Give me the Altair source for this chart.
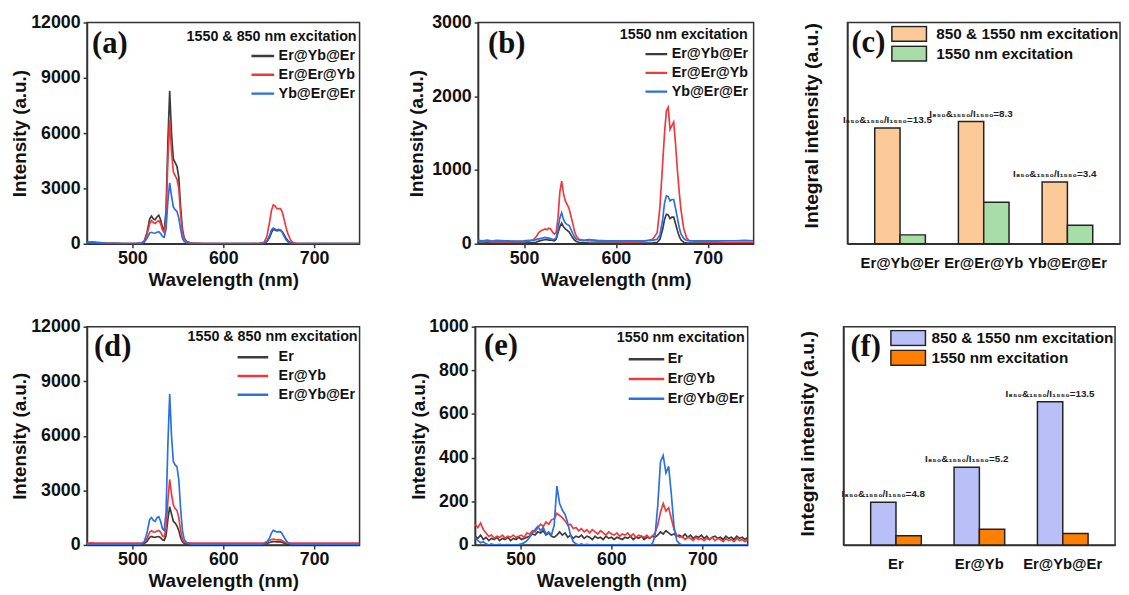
import altair as alt
import pandas as pd

SANS = "Liberation Sans"
SERIF = "Liberation Serif"

# ---------------- wavelength grids ----------------
WL = [450, 455, 460, 465, 470, 480, 490, 500, 505, 510, 513, 516, 519, 521, 523,
      525, 527, 529, 531, 533, 535, 537, 539, 541, 543, 545, 547, 549, 551, 553,
      555, 557, 560, 565, 570, 580, 590, 600, 610, 620, 630, 640, 645, 648, 651,
      653, 655, 657, 659, 661, 663, 665, 667, 669, 671, 674, 677, 680, 690, 700,
      710, 720, 730, 740, 750]

WL_E = [450, 453, 456, 459, 462, 465, 468, 471, 474, 477,
        480, 483, 486, 489, 492, 495, 498, 501, 504, 507,
        510, 513, 516, 519, 522, 525, 528, 531, 534, 537,
        540, 543, 546, 549, 552, 555, 558, 561, 564, 567,
        570, 573, 576, 579, 582, 585, 588, 591, 594, 597,
        600, 603, 606, 609, 612, 615, 618, 621, 624, 627,
        630, 633, 636, 639, 642, 645, 648, 651, 654, 657,
        660, 663, 666, 669, 672, 675, 678, 681, 684, 687,
        690, 693, 696, 699, 702, 705, 708, 711, 714, 717,
        720, 723, 726, 729, 732, 735, 738, 741, 744, 747,
        750]

# ---------------- panel (a): 1550 & 850 nm excitation ----------------
a_names = ["Er@Yb@Er", "Er@Er@Yb", "Yb@Er@Er"]
a_ErYbEr = [80, 90, 70, 60, 40, 20, 10, 10, 15, 30, 150, 600, 1350, 1500, 1350,
            1300, 1450, 1550, 1300, 900, 750, 1800, 5500, 8300, 6000, 4600, 4400, 4200, 3600, 2000,
            800, 300, 100, 30, 20, 10, 10, 10, 10, 10, 10, 15, 40, 120, 350,
            600, 780, 750, 700, 720, 730, 650, 480, 300, 170, 60, 20, 10, 10, 10,
            10, 10, 10, 10, 10]
a_ErErYb = [60, 70, 60, 50, 30, 15, 10, 10, 15, 30, 120, 500, 1100, 1250, 1150,
            1100, 1200, 1250, 1100, 750, 600, 1400, 4500, 6700, 5000, 3900, 3700, 3500, 3000, 1600,
            650, 250, 80, 30, 20, 10, 10, 10, 10, 10, 10, 20, 80, 400, 1200,
            1800, 2100, 2050, 1900, 1900, 1900, 1700, 1300, 900, 550, 200, 60, 20, 10, 10,
            10, 10, 10, 10, 10]
a_YbErEr = [70, 80, 60, 50, 30, 15, 10, 10, 15, 20, 80, 300, 580, 620, 580,
            570, 620, 650, 550, 400, 350, 800, 2300, 3300, 2600, 2000, 1850, 1750, 1400, 800,
            300, 120, 40, 20, 10, 10, 10, 10, 10, 10, 10, 15, 40, 150, 450,
            750, 850, 800, 750, 780, 750, 600, 400, 230, 110, 40, 15, 10, 10, 10,
            10, 10, 10, 10, 10]

# ---------------- panel (b): 1550 nm excitation ----------------
b_ErYbEr = [10, 10, 12, 10, 10, 10, 10, 10, 12, 15, 20, 35, 45, 50, 55,
            55, 50, 50, 45, 40, 60, 150, 230, 280, 230, 200, 180, 160, 120, 80,
            50, 30, 20, 15, 12, 10, 10, 10, 10, 10, 10, 12, 20, 60, 200,
            330, 400, 390, 340, 360, 360, 270, 180, 100, 50, 20, 10, 10, 10, 10,
            10, 10, 10, 10, 10]
b_ErErYb = [35, 30, 35, 25, 30, 25, 30, 30, 35, 50, 90, 150, 180, 190, 200,
            190, 210, 200, 160, 130, 150, 350, 700, 850, 680, 580, 530, 480, 380, 280,
            170, 100, 60, 45, 40, 35, 30, 30, 25, 25, 30, 60, 150, 500, 1100,
            1500, 1800, 1850, 1550, 1600, 1650, 1350, 1000, 700, 450, 200, 80, 40, 30, 25,
            25, 20, 20, 20, 20]
b_YbErEr = [45, 40, 50, 35, 45, 40, 35, 40, 45, 45, 55, 65, 75, 80, 85,
            80, 75, 70, 60, 60, 80, 200, 350, 420, 330, 280, 260, 250, 200, 140,
            90, 60, 50, 45, 55, 45, 40, 40, 40, 40, 40, 45, 60, 120, 330,
            550, 650, 640, 580, 600, 600, 480, 350, 220, 130, 70, 45, 40, 40, 40,
            40, 40, 40, 45, 40]

# ---------------- panel (d): 1550 & 850 nm excitation ----------------
d_names = ["Er", "Er@Yb", "Er@Yb@Er"]
d_Er = [50, 60, 50, 45, 40, 30, 30, 30, 35, 40, 80, 200, 420, 470, 430,
        420, 450, 460, 400, 280, 250, 500, 1400, 2100, 1700, 1300, 1200, 1050, 800, 400,
        180, 80, 40, 30, 30, 30, 30, 30, 30, 30, 30, 35, 45, 80, 130,
        170, 180, 175, 165, 170, 170, 140, 100, 60, 40, 30, 30, 30, 30, 30,
        30, 30, 30, 30, 30]
d_ErYb = [100, 110, 100, 100, 100, 100, 100, 100, 100, 105, 150, 350, 700, 780, 720,
          700, 760, 800, 700, 500, 450, 900, 2400, 3600, 2800, 2200, 2000, 1900, 1500, 800,
          300, 150, 110, 100, 100, 100, 100, 100, 100, 100, 100, 105, 120, 180, 260,
          300, 320, 300, 280, 290, 280, 230, 170, 120, 100, 100, 100, 100, 100, 100,
          100, 100, 100, 100, 100]
d_ErYbEr = [40, 40, 40, 40, 40, 30, 30, 30, 35, 50, 180, 650, 1400, 1500, 1350,
            1300, 1500, 1550, 1300, 900, 800, 1800, 5500, 8300, 6000, 4600, 4400, 4300, 3600, 2000,
            800, 300, 100, 40, 30, 30, 30, 30, 30, 30, 30, 35, 60, 150, 400,
            650, 800, 760, 700, 730, 720, 600, 420, 250, 130, 60, 35, 30, 30, 30,
            30, 30, 30, 30, 30]

# ---------------- panel (e): 1550 nm excitation ----------------
e_Er = [40, 30, 45, 25, 35, 20, 30, 25, 35, 20,
        30, 25, 35, 20, 30, 25, 35, 25, 30, 35,
        40, 50, 45, 60, 55, 65, 45, 55, 40, 35,
        45, 60, 45, 55, 35, 45, 30, 40, 35, 45,
        30, 40, 35, 25, 40, 30, 35, 25, 40, 30,
        35, 25, 35, 30, 25, 35, 30, 40, 25, 35,
        30, 40, 25, 35, 30, 40, 35, 45, 60, 50,
        65, 55, 45, 50, 40, 45, 35, 50, 35, 45,
        30, 40, 35, 45, 30, 40, 25, 35, 40, 30,
        35, 25, 40, 30, 35, 25, 40, 30, 35, 25,
        35]
e_ErYb = [95, 80, 100, 70, 55, 40, 45, 30, 40, 35,
          45, 30, 40, 35, 45, 35, 40, 45, 35, 55,
          50, 65, 60, 80, 95, 85, 105, 95, 115, 120,
          145, 135, 125, 110, 90, 95, 75, 80, 65, 75,
          60, 70, 55, 70, 60, 50, 65, 55, 45, 60,
          50, 45, 55, 40, 50, 45, 55, 40, 50, 35,
          45, 40, 35, 45, 30, 40, 55, 90, 150, 190,
          155, 170, 120, 70, 45, 35, 40, 25, 35, 30,
          20, 35, 25, 30, 20, 30, 25, 35, 20, 30,
          25, 15, 30, 20, 25, 15, 30, 20, 25, 15,
          25]
e_ErYbEr = [35, 20, 10, 15, 5, 0, 5, 0, 0, 3,
            0, 0, 2, 0, 0, 0, 2, 5, 10, 20,
            35, 55, 70, 85, 65, 80, 50, 60, 45, 90,
            270, 190, 160, 140, 100, 45, 15, 5, 0, 5,
            0, 3, 0, 0, 0, 2, 0, 0, 0, 0,
            0, 0, 0, 2, 0, 0, 0, 0, 0, 0,
            0, 0, 0, 0, 0, 5, 40, 180, 380, 410,
            330, 360, 230, 80, 20, 5, 0, 0, 0, 0,
            0, 0, 0, 0, 0, 0, 0, 0, 0, 0,
            0, 0, 0, 0, 0, 0, 0, 0, 0, 0,
            0]

# ---------------- bar panels (c) and (f) ----------------
c_cats = ["Er@Yb@Er", "Er@Er@Yb", "Yb@Er@Er"]
c_groups = ["850 & 1550 nm excitation", "1550 nm excitation"]
c_both = [0.523, 0.552, 0.279]
c_1550 = [0.040, 0.188, 0.083]
c_ratios = ["I₈₅₀&₁₅₅₀/I₁₅₅₀=13.5", "I₈₅₀&₁₅₅₀/I₁₅₅₀=8.3", "I₈₅₀&₁₅₅₀/I₁₅₅₀=3.4"]

f_cats = ["Er", "Er@Yb", "Er@Yb@Er"]
f_both = [0.196, 0.356, 0.656]
f_1550 = [0.042, 0.072, 0.052]
f_ratios = ["I₈₅₀&₁₅₅₀/I₁₅₅₀=4.8", "I₈₅₀&₁₅₅₀/I₁₅₅₀=5.2", "I₈₅₀&₁₅₅₀/I₁₅₅₀=13.5"]

line_colors = ["#3c3c3c", "#f0393c", "#2a6fe4"]
c_colors = ["#fcc998", "#a8dda8"]
f_colors = ["#b9c0f8", "#ff7f00"]

panel_labels = ["(a)", "(b)", "(c)", "(d)", "(e)", "(f)"]
exc_both = "1550 & 850 nm excitation"
exc_1550 = "1550 nm excitation"


def spectrum_panel(wl, series, names, ymax, yticks, label, excitation,
                   width, height, ytp, lab_xy, leg_x, leg_y, sym_len, lab_off,
                   row_pad, exc_xy):
    rows = []
    for name, vals in zip(names, series):
        for w, v in zip(wl, vals):
            rows.append({"wl": w, "I": v, "s": name})
    df = pd.DataFrame(rows)
    lines = alt.Chart(df).mark_line(strokeWidth=1.7, clip=True).encode(
        x=alt.X("wl:Q", scale=alt.Scale(domain=[450, 750], nice=False, zero=False),
                axis=alt.Axis(values=[500, 600, 700], title="Wavelength (nm)",
                              labelPadding=2, titlePadding=3, tickSize=4)),
        y=alt.Y("I:Q", scale=alt.Scale(domain=[0, ymax], nice=False),
                axis=alt.Axis(values=yticks, format="d", title="Intensity (a.u.)",
                              labelPadding=3, titlePadding=ytp, tickSize=4)),
        color=alt.Color("s:N", sort=names,
                        scale=alt.Scale(domain=names, range=line_colors),
                        legend=alt.Legend(orient="none", legendX=leg_x, legendY=leg_y,
                                          title=None, symbolType="stroke",
                                          symbolSize=sym_len * sym_len,
                                          symbolStrokeWidth=2.5, clipHeight=17,
                                          rowPadding=row_pad, labelOffset=lab_off,
                                          labelFont=SANS, labelFontSize=14.5,
                                          labelFontWeight="bold", labelColor="#111",
                                          padding=0)),
    )
    lab = alt.Chart(pd.DataFrame({"t": [label]})).mark_text(
        font=SERIF, fontSize=31, fontWeight="bold", align="left", baseline="middle",
        color="#111").encode(text="t:N", x=alt.value(lab_xy[0]), y=alt.value(lab_xy[1]))
    exc = alt.Chart(pd.DataFrame({"t": [excitation]})).mark_text(
        font=SANS, fontSize=14.5, fontWeight="bold", align="right", baseline="middle",
        color="#111").encode(text="t:N", x=alt.value(exc_xy[0]), y=alt.value(exc_xy[1]))
    return alt.layer(lines, lab, exc).properties(width=width, height=height)


def bar_panel(cats, both, only, groups, colors, ratios, label, width, height,
              lab_xy, leg_x, lab_off, title_y):
    df = pd.DataFrame({"cat": cats + cats,
                       "grp": [groups[0]] * len(cats) + [groups[1]] * len(cats),
                       "v": both + only})
    xenc = alt.X("cat:N", sort=cats,
                 scale=alt.Scale(paddingInner=0.395, paddingOuter=0.326),
                 axis=alt.Axis(title=None, labelAngle=0, ticks=False, labelFontSize=15,
                               labelPadding=12, labelColor="#111"))
    xoff = alt.XOffset("grp:N", sort=groups, scale=alt.Scale(paddingInner=0, paddingOuter=0))
    yenc = alt.Y("v:Q", scale=alt.Scale(domain=[0, 1], nice=False),
                 axis=alt.Axis(title="Integral intensity (a.u.)", labels=False, ticks=False,
                               titlePadding=26, titleFontSize=19.5, titleY=title_y))
    bars = alt.Chart(df).mark_bar(stroke="#222", strokeWidth=1.5).encode(
        x=xenc, xOffset=xoff, y=yenc,
        color=alt.Color("grp:N", sort=groups, scale=alt.Scale(domain=groups, range=colors),
                        legend=alt.Legend(orient="none", legendX=leg_x, legendY=3, title=None,
                                          symbolType="M-1,-0.43H1V0.43H-1Z", symbolSize=1225,
                                          symbolStrokeColor="#222", symbolStrokeWidth=1.5,
                                          symbolOpacity=1, clipHeight=17, rowPadding=3,
                                          labelOffset=lab_off, labelFont=SANS, labelFontSize=15.5,
                                          labelFontWeight="bold", labelColor="#111",
                                          labelLimit=400, padding=0)),
    )
    ann_df = pd.DataFrame({"cat": cats, "grp": [groups[0]] * len(cats), "v": both, "t": ratios})
    ann = alt.Chart(ann_df).mark_text(font=SANS, fontSize=10, fontWeight="bold",
                                      baseline="bottom", dy=-3, color="#222").encode(
        x=alt.X("cat:N", sort=cats), xOffset=alt.XOffset("grp:N", sort=groups),
        y="v:Q", text="t:N")
    lab = alt.Chart(pd.DataFrame({"t": [label]})).mark_text(
        font=SERIF, fontSize=31, fontWeight="bold", align="left", baseline="middle",
        color="#111").encode(text="t:N", x=alt.value(lab_xy[0]), y=alt.value(lab_xy[1]))
    return alt.layer(bars, ann, lab).properties(width=width, height=height)


pa = spectrum_panel(WL, [a_ErYbEr, a_ErErYb, a_YbErEr], a_names, 12000,
                    [0, 3000, 6000, 9000, 12000], panel_labels[0], exc_both,
                    276, 224, 1, (5, 22), 165, 25.5, 23, 3, 2, (273, 15))
pb = spectrum_panel(WL, [b_ErYbEr, b_ErErYb, b_YbErEr], a_names, 3000,
                    [0, 1000, 2000, 3000], panel_labels[1], exc_1550,
                    279, 224, 5, (10, 22), 168, 23.5, 22, 3, 2, (273, 13))
pc = bar_panel(c_cats, c_both, c_1550, c_groups, c_colors, c_ratios, panel_labels[2],
               276, 224, (4, 21), 44, 9, 104)
pdd = spectrum_panel(WL, [d_Er, d_ErYb, d_ErYbEr], d_names, 12000,
                     [0, 3000, 6000, 9000, 12000], panel_labels[3], exc_both,
                     276, 221, 1, (7, 21), 151, 22.5, 31, 9, 2, (274, 10))
pe = spectrum_panel(WL_E, [e_Er, e_ErYb, e_ErYbEr], d_names, 1000,
                    [0, 200, 400, 600, 800, 1000], panel_labels[4], exc_1550,
                    276, 221, 0, (9, 20), 154, 24.5, 36, 2, 3, (273, 12))
pf = bar_panel(f_cats, f_both, f_1550, c_groups, f_colors, f_ratios, panel_labels[5],
               275, 221, (7, 21), 47, 5, 108)

row1 = alt.hconcat(pa, pb, pc, spacing=47).resolve_scale(color="independent")
row2 = alt.hconcat(pdd, pe, pf, spacing=49).resolve_scale(color="independent")

chart = alt.vconcat(row1, row2, spacing=27).resolve_scale(
    color="independent"
).properties(
    padding={"left": 2, "top": 1, "right": 0, "bottom": 0},
    background="white",
).configure_axis(
    labelFont=SANS, titleFont=SANS, labelFontWeight="bold", titleFontWeight="bold",
    labelFontSize=18, titleFontSize=19, labelColor="#111", titleColor="#111",
    domainColor="#333", domainWidth=1.5, tickColor="#333", tickWidth=1.5, grid=False,
).configure_view(
    stroke="#333", strokeWidth=1.5
)

chart.save("out.html", embed_options={"renderer": "svg", "actions": False})
